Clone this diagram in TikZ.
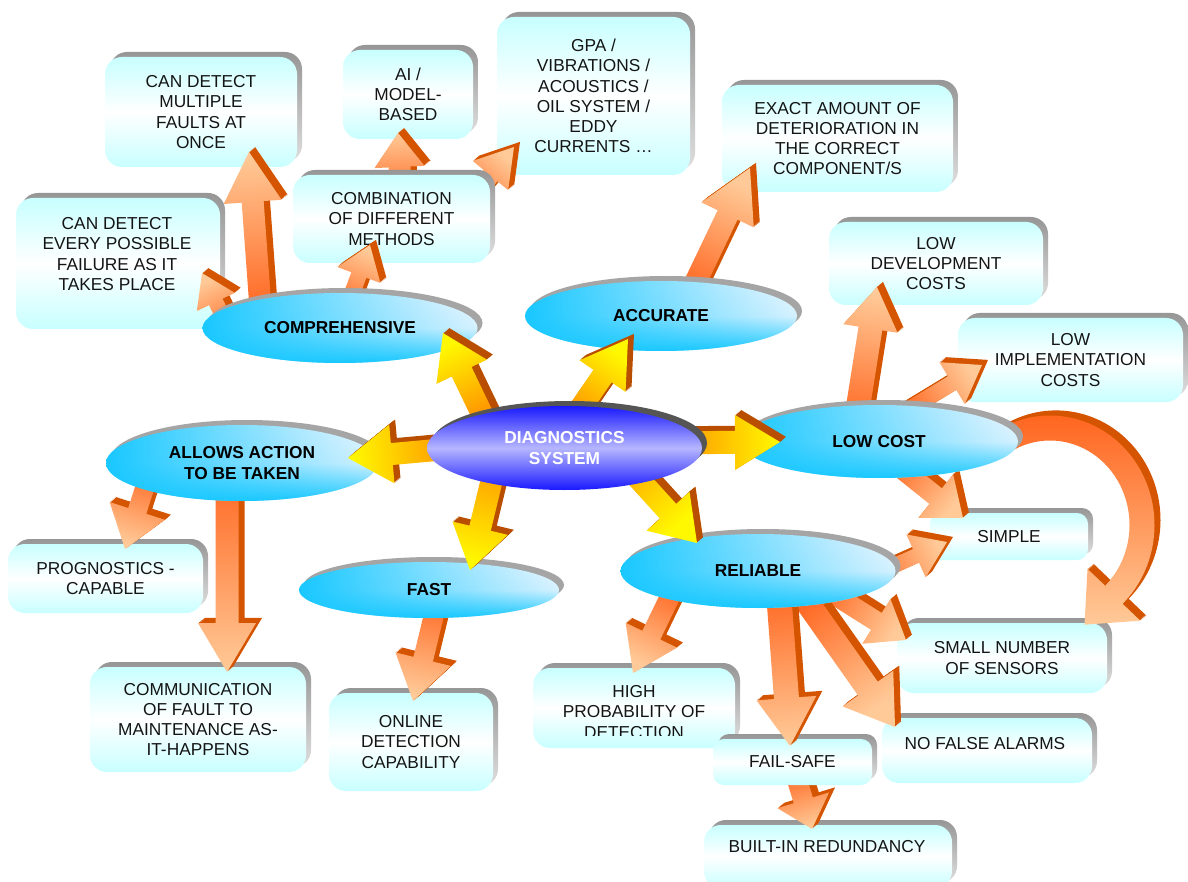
\documentclass[tikz,border=0pt]{standalone}
\usepackage{fontspec}
\setmainfont{Liberation Sans}
\usetikzlibrary{shapes.geometric,shadows,fadings}

% palette
\definecolor{boxcy}{RGB}{200,255,255}
\definecolor{shtop}{RGB}{150,150,150}
\definecolor{shbot}{RGB}{222,222,222}
\definecolor{ecyan}{RGB}{25,200,255}
\definecolor{elight}{RGB}{238,247,255}
\definecolor{erim}{RGB}{165,165,165}
\definecolor{cblue}{RGB}{25,25,255}
\definecolor{clav}{RGB}{182,182,255}
\definecolor{crim}{RGB}{85,85,85}
\definecolor{otail}{RGB}{255,102,32}
\definecolor{ohead}{RGB}{255,202,152}
\definecolor{oside}{RGB}{212,84,0}
\definecolor{ytail}{RGB}{255,125,0}
\definecolor{yhead}{RGB}{255,248,0}
\definecolor{yside}{RGB}{185,78,0}
\definecolor{ink}{RGB}{20,20,20}

\newcommand\boxfont{\fontsize{17.3}{20.3}\selectfont}
\newcommand\ellfont{\fontsize{17.3}{20.3}\selectfont\bfseries}

\tikzfading[name=glowup, top color=transparent!100, bottom color=transparent!0, middle color=transparent!88]

% 3-D block arrow between two named coordinates
% #1 tail, #2 tip, #3 shaft width, #4 head width, #5 head length,
% #6 tail colour, #7 head colour, #8 side colour
\newcommand\blockarrow[8]{%
  \pgfpointanchor{#1}{center}\pgfgetlastxy{\bax}{\bay}%
  \pgfpointanchor{#2}{center}\pgfgetlastxy{\bbx}{\bby}%
  \pgfmathsetmacro\barang{atan2(\bby-\bay,\bbx-\bax)}%
  \pgfmathsetmacro\barsang{\barang-90}%
  \pgfmathsetmacro\barlen{veclen(\bbx-\bax,\bby-\bay)}%
  \pgfmathsetmacro\barneck{\barlen-#5}%
  \pgfmathsetmacro\barsw{#3/2}%
  \pgfmathsetmacro\barhw{#4/2}%
  \def\barpath{(0pt,-\barsw pt) -- (\barneck pt,-\barsw pt) -- (\barneck pt,-\barhw pt) -- (\barlen pt,0pt) -- (\barneck pt,\barhw pt) -- (\barneck pt,\barsw pt) -- (0pt,\barsw pt) -- cycle}%
  \foreach \k in {1,...,6}{%
    \fill[#8, shift={(\k*1pt,\k*0.85pt)}, shift={(\bax,\bay)}, rotate=\barang] \barpath;}%
  \shade[top color=#7, bottom color=#6, shading angle=\barsang, shift={(\bax,\bay)}, rotate=\barang] \barpath;%
}

\tikzset{
  cbox/.style={rounded corners=17pt, top color=boxcy, bottom color=boxcy, middle color=white,
    inner sep=0pt, align=center, text=ink, font=\boxfont,
    general shadow={top color=shtop, bottom color=shbot, shadow xshift=5pt, shadow yshift=5pt}},
  boxtext/.style={align=center, text=ink, font=\boxfont, inner sep=0pt},
  catell/.style={ellipse, inner sep=0pt, left color=ecyan, right color=elight,
    text=black, font=\ellfont, align=center,
    general shadow={fill=erim, shadow xshift=5pt, shadow yshift=5pt},
    postaction={fill=ecyan, path fading=glowup}},
  diagell/.style={ellipse, inner sep=0pt, top color=cblue, bottom color=cblue, middle color=clav,
    text=white, font=\ellfont, align=center,
    general shadow={fill=crim, shadow xshift=5pt, shadow yshift=5pt}},
}

\begin{document}
\begin{tikzpicture}[x=1pt,y=-1pt]
\useasboundingbox (0,0) rectangle (1188,882);
\fill[white] (0,0) rectangle (1188,882);

% arrow end points
\coordinate (c1a) at (493,437); \coordinate (c1b) at (443,333);
\coordinate (c2a) at (562,435); \coordinate (c2b) at (628,339);
\coordinate (c3a) at (650,443); \coordinate (c3b) at (780,442);
\coordinate (c4a) at (480,446); \coordinate (c4b) at (348,458);
\coordinate (c5a) at (505,425); \coordinate (c5b) at (470,570);
\coordinate (c6a) at (585,420); \coordinate (c6b) at (697,543);
\coordinate (s1a) at (261,315); \coordinate (s1b) at (249,152);
\coordinate (s2a) at (234,340); \coordinate (s2b) at (202,273);
\coordinate (s3a) at (344,315); \coordinate (s3b) at (370,245);
\coordinate (s4a) at (401,200); \coordinate (s4b) at (398,133);
\coordinate (s5a) at (462,210); \coordinate (s5b) at (514,147);
\coordinate (s6a) at (686,302); \coordinate (s6b) at (750,168);
\coordinate (s7a) at (854,432); \coordinate (s7b) at (877,287);
\coordinate (s8a) at (898,416); \coordinate (s8b) at (982,365);
\coordinate (s9a) at (888,458); \coordinate (s9b) at (963,518);
\coordinate (s10a) at (860,581); \coordinate (s10b) at (947,542);
\coordinate (s11a) at (817,584); \coordinate (s11b) at (906,640);
\coordinate (s12a) at (797,588); \coordinate (s12b) at (895,727);
\coordinate (s13a) at (778,585); \coordinate (s13b) at (790,746);
\coordinate (s14a) at (678,580); \coordinate (s14b) at (633,673);
\coordinate (s15a) at (794,770); \coordinate (s15b) at (812,829);
\coordinate (s16a) at (152,465); \coordinate (s16b) at (125,549);
\coordinate (s17a) at (227,470); \coordinate (s17b) at (227,672);
\coordinate (s18a) at (440,590); \coordinate (s18b) at (413,701);
\coordinate (lcarc) at (1050,525);

% leaf boxes
\node[cbox, minimum width=192pt, minimum height=110pt] (multi) at (201,112) {CAN DETECT\\MULTIPLE\\FAULTS AT\\ONCE};
\node[cbox, minimum width=204pt, minimum height=131pt] (every) at (118,263.5) {};
\node[boxtext] (everytext) at (117,254) {CAN DETECT\\EVERY POSSIBLE\\FAILURE AS IT\\TAKES PLACE};
\node[cbox, minimum width=130pt, minimum height=89pt] (ai) at (408,94.5) {AI /\\MODEL-\\BASED};
\node[cbox, minimum width=193pt, minimum height=158pt] (gpa) at (593.5,96) {GPA /\\VIBRATIONS /\\ACOUSTICS /\\OIL SYSTEM /\\EDDY\\CURRENTS …};
\node[cbox, minimum width=231pt, minimum height=107pt] (exact) at (837.5,138.5) {EXACT AMOUNT OF\\DETERIORATION IN\\THE CORRECT\\COMPONENT/S};
\node[cbox, minimum width=214pt, minimum height=83pt] (lowdev) at (936,263.5) {LOW\\DEVELOPMENT\\COSTS};
\node[cbox, minimum width=225pt, minimum height=84pt] (lowimpl) at (1070.5,360) {LOW\\IMPLEMENTATION\\COSTS};
\node[cbox, rounded corners=11pt, minimum width=158pt, minimum height=47pt] (simple) at (1009,536.5) {SIMPLE};
\node[cbox, minimum width=210pt, minimum height=70pt] (small) at (1002,658) {SMALL NUMBER\\OF SENSORS};
\node[cbox, minimum width=210pt, minimum height=65pt] (nofalse) at (987,750.5) {};
\node[boxtext] (nofalsetext) at (985,744) {NO FALSE ALARMS};
\node[cbox, minimum width=248pt, minimum height=63pt] (builtin) at (828,856.5) {};
\node[boxtext] (builtintext) at (827,847) {BUILT-IN REDUNDANCY};
\node[cbox, minimum width=202pt, minimum height=80pt] (highprob) at (634,708) {};
\begin{scope}
  \clip (530,660) rectangle (740,735);
  \node[boxtext] (highprobtext) at (634,712) {HIGH\\PROBABILITY OF\\DETECTION};
\end{scope}
\node[cbox, minimum width=195pt, minimum height=69pt] (progn) at (105.5,578.5) {PROGNOSTICS -\\CAPABLE};
\node[cbox, minimum width=216pt, minimum height=105pt] (comm) at (198,719.5) {COMMUNICATION\\OF FAULT TO\\MAINTENANCE AS-\\IT-HAPPENS};
\node[cbox, minimum width=164pt, minimum height=98pt] (online) at (411,742) {ONLINE\\DETECTION\\CAPABILITY};

% arrows leaving the intermediate boxes
\blockarrow{s4a}{s4b}{22}{50}{34}{otail}{ohead}{oside}
\blockarrow{s5a}{s5b}{18}{46}{37}{otail}{ohead}{oside}
\blockarrow{s15a}{s15b}{20}{54}{30}{otail}{ohead}{oside}

% intermediate boxes
\node[cbox, minimum width=197pt, minimum height=88pt] (combo) at (391.5,219) {COMBINATION\\OF DIFFERENT\\METHODS};
\node[cbox, rounded corners=11pt, minimum width=159pt, minimum height=46pt] (failsafe) at (792.5,762) {FAIL-SAFE};

% arrows leaving the category ellipses
\blockarrow{s1a}{s1b}{22}{58}{50}{otail}{ohead}{oside}
\blockarrow{s2a}{s2b}{15}{42}{32}{otail}{ohead}{oside}
\blockarrow{s3a}{s3b}{16}{46}{32}{otail}{ohead}{oside}
\blockarrow{s6a}{s6b}{22}{58}{52}{otail}{ohead}{oside}
\blockarrow{s7a}{s7b}{24}{55}{42}{otail}{ohead}{oside}
\blockarrow{s8a}{s8b}{16}{49}{35}{otail}{ohead}{oside}
\blockarrow{s9a}{s9b}{20}{56}{35}{otail}{ohead}{oside}
\blockarrow{s10a}{s10b}{15}{47}{34}{otail}{ohead}{oside}
\blockarrow{s11a}{s11b}{20}{53}{35}{otail}{ohead}{oside}
\blockarrow{s12a}{s12b}{24}{62}{47}{otail}{ohead}{oside}
\blockarrow{s13a}{s13b}{25}{60}{48}{otail}{ohead}{oside}
\blockarrow{s14a}{s14b}{20}{57}{42}{otail}{ohead}{oside}
\blockarrow{s16a}{s16b}{19}{58}{40}{otail}{ohead}{oside}
\blockarrow{s17a}{s17b}{23}{58}{49}{otail}{ohead}{oside}
\blockarrow{s18a}{s18b}{20}{57}{43}{otail}{ohead}{oside}

% curved arrow from LOW COST round to SMALL NUMBER OF SENSORS
\begin{scope}[shift={(lcarc)}]
  \def\curvepath{plot[domain=-120:46,samples=70] ({104.5*cos(\x)},{109.5*sin(\x)}) -- (90.3,95.7) -- (34.5,99.7) -- (37.5,43.9) -- plot[domain=46:-120,samples=70] ({79.5*cos(\x)},{84.5*sin(\x)}) -- cycle}
  \foreach \k in {1,...,6}{\fill[oside, shift={(\k*1pt,\k*0.85pt)}] \curvepath;}
  \shade[top color=otail, bottom color=ohead] \curvepath;
\end{scope}

% category ellipses
\node[catell, minimum width=275pt, minimum height=70pt] (compr) at (340,328) {COMPREHENSIVE};
\node[catell, minimum width=272pt, minimum height=70pt] (accur) at (661,316) {ACCURATE};
\node[catell, minimum width=278pt, minimum height=73pt] (lowcost) at (879,441.5) {LOW COST};
\node[catell, minimum width=275pt, minimum height=74pt] (reliable) at (758,571) {RELIABLE};
\node[catell, minimum width=272pt, minimum height=76pt] (allows) at (242,463) {ALLOWS ACTION\\TO BE TAKEN};
\node[catell, minimum width=260pt, minimum height=56pt] (fast) at (429,590) {FAST};

% arrows from the centre
\blockarrow{c1a}{c1b}{22}{56}{43}{ytail}{yhead}{yside}
\blockarrow{c2a}{c2b}{22}{56}{45}{ytail}{yhead}{yside}
\blockarrow{c3a}{c3b}{23}{55}{45}{ytail}{yhead}{yside}
\blockarrow{c4a}{c4b}{22}{59}{44}{ytail}{yhead}{yside}
\blockarrow{c5a}{c5b}{22}{57}{43}{ytail}{yhead}{yside}
\blockarrow{c6a}{c6b}{22}{58}{43}{ytail}{yhead}{yside}

% centre
\node[diagell, minimum width=275pt, minimum height=84pt] (diag) at (564.5,448) {DIAGNOSTICS\\SYSTEM};
\end{tikzpicture}
\end{document}
